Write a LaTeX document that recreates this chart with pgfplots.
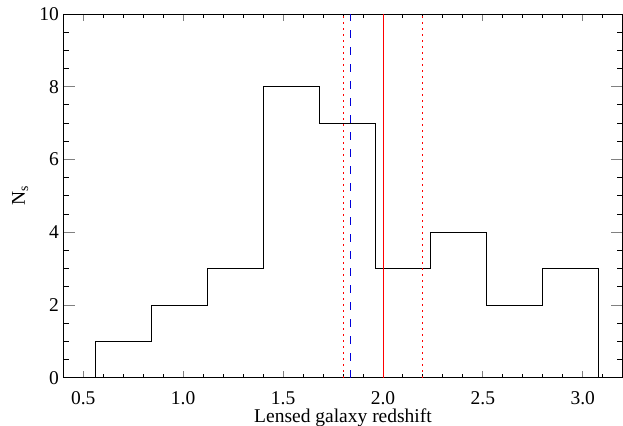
\documentclass[border=0pt]{standalone}
\usepackage{fontspec}
\setmainfont{Liberation Serif}
\usepackage{pgfplots}
\pgfplotsset{compat=1.18}
\begin{document}
\begin{tikzpicture}
\useasboundingbox (0,0) rectangle (623bp,426bp);
\begin{axis}[
  at={(63.3bp,48.3bp)}, anchor=south west,
  scale only axis, width=559.4bp, height=363.7bp,
  xmin=0.4, xmax=3.2, ymin=0, ymax=10,
  xtick={0.5,1.0,1.5,2.0,2.5,3.0}, xticklabels={0.5,1.0,1.5,2.0,2.5,3.0},
  minor xtick={0.4,0.6,0.7,0.8,0.9,1.1,1.2,1.3,1.4,1.6,1.7,1.8,1.9,2.1,2.2,2.3,2.4,2.6,2.7,2.8,2.9,3.1,3.2},
  ytick={0,2,4,6,8,10}, yticklabels={0,2,4,6,8,10},
  minor ytick={0.5,1,1.5,2.5,3,3.5,4.5,5,5.5,6.5,7,7.5,8.5,9,9.5},
  tick align=inside, tick pos=both,
  major tick length=12bp, minor tick length=6bp,
  axis line style={line width=0.9bp},
  xtick style={line width=0.9bp, /pgfplots/major tick length=7bp, /pgfplots/minor tick length=4bp},
  ytick style={line width=0.9bp},
  minor tick style={line width=0.9bp, black},
  xticklabel style={yshift=-10bp},
  yticklabel style={xshift=-1bp},
  ticklabel style={font=\fontsize{19.5bp}{22bp}\selectfont},
  xlabel={Lensed galaxy redshift},
  ylabel={N\textsubscript{s}},
  label style={font=\fontsize{19.5bp}{22bp}\selectfont},
  xlabel style={at={(axis description cs:0.5,0)}, anchor=base, yshift=-45bp},
  ylabel style={at={(axis description cs:-0.077,0.5)}, anchor=center},
]
\addplot[const plot mark left, black, line width=0.9bp, mark=none] coordinates {
  (0.56,0) (0.56,1) (0.84,2) (1.12,3) (1.40,8) (1.68,7) (1.96,3) (2.24,4) (2.52,2) (2.80,3) (3.08,3) (3.08,0)
};
\addplot[red, line width=0.9bp, dash pattern=on 1.5bp off 4.5bp] coordinates {(1.8,0) (1.8,10)};
\addplot[red, line width=0.9bp, dash pattern=on 1.5bp off 4.5bp] coordinates {(2.2,0) (2.2,10)};
\addplot[red, line width=0.9bp] coordinates {(2.0,0) (2.0,10)};
\addplot[blue!85!black, line width=1bp, dash pattern=on 8bp off 9bp] coordinates {(1.84,0) (1.84,10)};
\end{axis}
\end{tikzpicture}
\end{document}
